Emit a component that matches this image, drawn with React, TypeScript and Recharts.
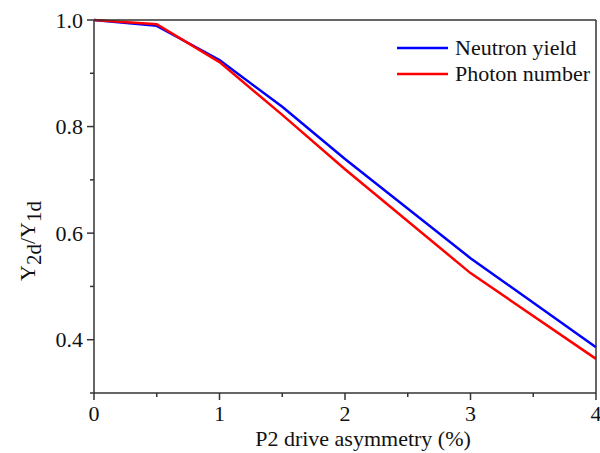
import { LineChart, Line, XAxis, YAxis, Legend, Label } from "recharts";

const asymmetry: number[] = [0, 0.5, 1, 1.5, 2, 3, 4];
const neutronYield: number[] = [1.0, 0.989, 0.925, 0.837, 0.739, 0.553, 0.386];
const photonNumber: number[] = [1.0, 0.992, 0.921, 0.822, 0.72, 0.525, 0.364];

const xTicks: number[] = [0, 0.5, 1, 1.5, 2, 2.5, 3, 3.5, 4];
const xLabels: number[] = [0, 1, 2, 3, 4];
const yTicks: number[] = [0.3, 0.4, 0.5, 0.6, 0.7, 0.8, 0.9, 1.0];
const yLabels: number[] = [0.4, 0.6, 0.8, 1.0];

const data = asymmetry.map((x, i) => ({
  x,
  neutron: neutronYield[i],
  photon: photonNumber[i],
}));

const W = 600;
const H = 453;
const LEFT = 94;
const TOP = 20;
const RIGHT = 596;
const BOTTOM = 393;
const FONT = "Liberation Serif";
const AXIS = "#333";

const isLabel = (v: number, list: number[]) => list.some((l) => Math.abs(l - v) < 1e-6);

const XTick = (props: any) => {
  const { x, payload } = props;
  const major = isLabel(payload.value, xLabels);
  return (
    <g>
      <line x1={x} x2={x} y1={BOTTOM} y2={BOTTOM + (major ? 7 : 4)} stroke={AXIS} strokeWidth={1.5} />
      {major && (
        <text x={x} y={BOTTOM + 28} textAnchor="middle" fontSize={22} fontFamily={FONT} fill="#111">
          {payload.value}
        </text>
      )}
    </g>
  );
};

const YTick = (props: any) => {
  const { y, payload } = props;
  const major = isLabel(payload.value, yLabels);
  return (
    <g>
      <line x1={LEFT - (major ? 7 : 4)} x2={LEFT} y1={y} y2={y} stroke={AXIS} strokeWidth={1.5} />
      {major && (
        <text x={LEFT - 11} y={y + 7.5} textAnchor="end" fontSize={22} fontFamily={FONT} fill="#111">
          {payload.value.toFixed(1)}
        </text>
      )}
    </g>
  );
};

const YTitle = () => (
  <text
    transform={`translate(35, 241) rotate(-90)`}
    textAnchor="middle"
    fontSize={22}
    fontFamily={FONT}
    fill="#111"
  >
    Y<tspan dy={6} fontSize={21}>2d</tspan>
    <tspan dy={-6}>/Y</tspan>
    <tspan dy={6} fontSize={21}>1d</tspan>
  </text>
);

const XTitle = (props: any) => {
  const { viewBox } = props;
  return (
    <text
      x={viewBox.x + viewBox.width / 2 + 18}
      y={H - 7}
      textAnchor="middle"
      fontSize={22}
      fontFamily={FONT}
      fill="#111"
    >
      P2 drive asymmetry (%)
    </text>
  );
};

const LegendBox = (props: any) => {
  const { payload } = props;
  return (
    <div style={{ fontFamily: FONT, fontSize: 22, color: "#111" }}>
      {payload.map((p: any) => (
        <div key={p.value} style={{ display: "flex", alignItems: "center", height: 26 }}>
          <svg width={51} height={6} style={{ marginRight: 7 }}>
            <line x1={0} x2={51} y1={3} y2={3} stroke={p.color} strokeWidth={2.5} />
          </svg>
          <span>{p.value}</span>
        </div>
      ))}
    </div>
  );
};

export default function App() {
  return (
    <div style={{ position: "absolute", left: 0, top: 0, background: "#fff" }}>
      <LineChart
        width={W}
        height={H}
        data={data}
        margin={{ top: TOP - 1, right: W - RIGHT - 1, left: 0, bottom: 0 }}
      >
        <XAxis
          dataKey="x"
          type="number"
          domain={[0, 4]}
          ticks={xTicks}
          interval={0}
          height={H - BOTTOM}
          stroke={AXIS}
          strokeWidth={1.5}
          tickLine={false}
          tick={<XTick />}
        >
          <Label content={<XTitle />} />
        </XAxis>
        <XAxis
          xAxisId="top"
          orientation="top"
          type="number"
          dataKey="x"
          domain={[0, 4]}
          height={1}
          tick={false}
          tickLine={false}
          stroke={AXIS}
          strokeWidth={1.5}
        />
        <YAxis
          type="number"
          domain={[0.3, 1.0]}
          ticks={yTicks}
          interval={0}
          width={LEFT}
          stroke={AXIS}
          strokeWidth={1.5}
          tickLine={false}
          tick={<YTick />}
          label={<YTitle />}
        />
        <YAxis
          yAxisId="right"
          orientation="right"
          type="number"
          domain={[0.3, 1.0]}
          width={1}
          tick={false}
          tickLine={false}
          stroke={AXIS}
          strokeWidth={1.5}
        />
        <Legend
          layout="vertical"
          verticalAlign="middle"
          align="center"
          content={<LegendBox />}
          wrapperStyle={{ top: 35, left: 397, width: 200 }}
        />
        <Line
          dataKey="neutron"
          name="Neutron yield"
          stroke="#0000ff"
          strokeWidth={2.5}
          dot={false}
          isAnimationActive={false}
        />
        <Line
          dataKey="photon"
          name="Photon number"
          stroke="#ff0000"
          strokeWidth={2.5}
          dot={false}
          isAnimationActive={false}
        />
      </LineChart>
    </div>
  );
}
